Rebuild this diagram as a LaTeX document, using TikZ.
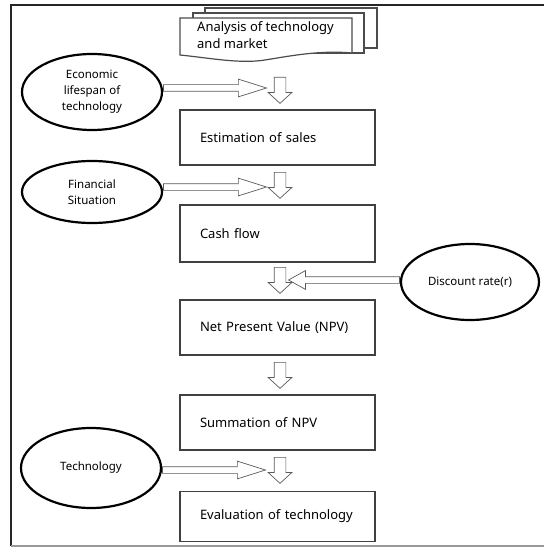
\documentclass[tikz,border=0pt]{standalone}
\usepackage{fontspec}
\setmainfont{Noto Sans}
\usetikzlibrary{shapes.arrows,shapes.geometric}

\begin{document}
\begin{tikzpicture}[x=1pt,y=-1pt,
    box/.style={draw=black!75,line width=1.3pt,minimum width=195pt,text width=155pt,
        align=left,inner xsep=20pt,font=\fontsize{13}{15}\selectfont},
    oval/.style={draw=black,line width=2.2pt,ellipse,minimum width=140pt,
        align=center,font=\fontsize{11.5}{16}\selectfont},
    sheet/.style={draw=black!70,line width=1.2pt,fill=white},
    downarrow/.style={single arrow,draw=black!65,line width=.7pt,shape border rotate=270,
        minimum height=26pt,inner sep=5.5pt,single arrow head extend=6pt,
        single arrow tip angle=95,anchor=tail},
    sidearrow/.style={single arrow,draw=black!65,line width=.7pt,inner sep=3pt,
        single arrow head extend=5.5pt,single arrow tip angle=35,anchor=tail}]
    \useasboundingbox (0,0) rectangle (544,548);
    % frame
    \draw[black!85,line width=1.3pt] (544,5) -- (11,5) -- (11,546);
    \draw[black!40,line width=1.3pt] (11,546) -- (544,546);
    % stacked documents
    \draw[sheet] (205,8) rectangle (377,48);
    \draw[sheet] (193,13) rectangle (364,53);
    \draw[sheet] (180,18) -- (352,18) -- (352,53)
        .. controls (320,50) and (290,56) .. (265,60)
        .. controls (240,64) and (210,58) .. (180,55) -- cycle;
    \node[anchor=north west,align=left,inner sep=0pt,font=\fontsize{13}{17}\selectfont]
        (analysis) at (197,21) {Analysis of technology\\and market};
    % process boxes
    \node[box,minimum height=55pt] (sales) at (277.5,137.5) {Estimation of sales};
    \node[box,minimum height=57pt] (cash) at (277.5,233.5) {Cash flow};
    \node[box,minimum height=55pt] (npv) at (277.5,327.5) {Net Present Value (NPV)};
    \node[box,minimum height=55pt] (summ) at (277.5,422.5) {Summation of NPV};
    \node[box,minimum height=50pt] (evalt) at (277.5,516.5) {Evaluation of technology};
    % input ovals
    \node[oval,minimum height=76pt] (life) at (92,92) {Economic\\lifespan of\\technology};
    \node[oval,minimum height=62pt] (fin) at (92,192) {Financial\\Situation};
    \node[oval,minimum height=80pt] (tech) at (91,468) {Technology};
    \node[oval,minimum height=76pt,minimum width=138pt] (disc) at (470,282) {Discount rate(r)};
    % down arrows
    \node[downarrow] (d1) at (280,77) {};
    \node[downarrow] (d2) at (280,172) {};
    \node[downarrow] (d3) at (280,267) {};
    \node[downarrow] (d4) at (280,362) {};
    \node[downarrow] (d5) at (280,457) {};
    % side arrows
    \node[sidearrow,minimum height=103pt] (a1) at ([yshift=4pt]life.east) {};
    \node[sidearrow,minimum height=103pt] (a2) at ([yshift=5pt]fin.east) {};
    \node[sidearrow,minimum height=103pt] (a3) at ([yshift=-2pt]tech.east) {};
    \node[sidearrow,shape border rotate=180,minimum height=111pt,single arrow head extend=6pt,
        single arrow tip angle=58] (a4) at ([yshift=2pt]disc.west) {};
\end{tikzpicture}
\end{document}
